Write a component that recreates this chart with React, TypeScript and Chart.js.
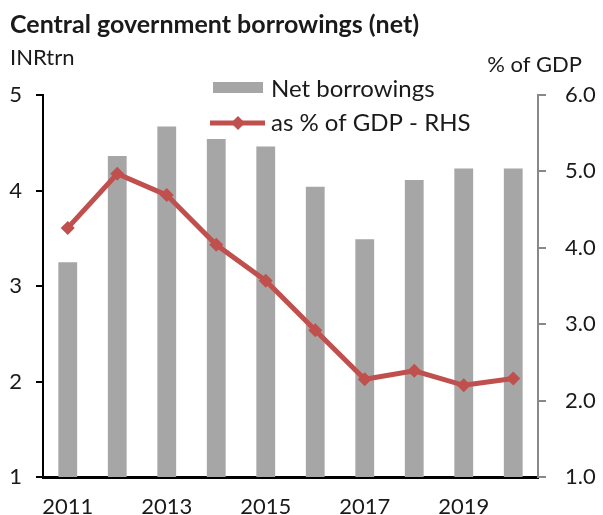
import { useEffect, useRef } from "react";
import { Chart, registerables } from "chart.js";

Chart.register(...registerables);

const years = ["2011", "2012", "2013", "2014", "2015", "2016", "2017", "2018", "2019", "2020"];
const netBorrowings = [3.25, 4.36, 4.67, 4.54, 4.46, 4.04, 3.49, 4.11, 4.23, 4.23];
const pctOfGdp = [4.26, 4.97, 4.69, 4.04, 3.57, 2.92, 2.28, 2.39, 2.2, 2.29];
const leftRange = [1, 5];
const rightRange = [1, 6];
const titleText = "Central government borrowings (net)";
const leftAxisLabel = "INRtrn";
const rightAxisLabel = "% of GDP";
const barLabel = "Net borrowings";
const lineLabel = "as % of GDP - RHS";

const FONT = "Lato, 'Open Sans', sans-serif";
const BAR_COLOR = "#a6a6a6";
const LINE_COLOR = "#c0504d";
const TEXT_COLOR = "#1a1a1a";

const overlayPlugin = {
  id: "overlay",
  afterDraw(chart: any) {
    const ctx = chart.ctx;
    ctx.save();
    ctx.fillStyle = TEXT_COLOR;
    ctx.textBaseline = "alphabetic";
    ctx.textAlign = "left";
    ctx.font = `bold 25px ${FONT}`;
    ctx.fillText(titleText, 10, 33);
    ctx.font = `22px ${FONT}`;
    ctx.fillText(leftAxisLabel, 10, 65);
    ctx.textAlign = "right";
    ctx.fillText(rightAxisLabel, 582, 72);

    // legend
    const ds = chart.data.datasets;
    ctx.textAlign = "left";
    ctx.textBaseline = "middle";
    ctx.font = `24px ${FONT}`;
    ctx.fillStyle = BAR_COLOR;
    ctx.fillRect(213, 82, 50, 11);
    ctx.fillStyle = TEXT_COLOR;
    ctx.fillText(ds[0].label, 271, 89);

    ctx.strokeStyle = LINE_COLOR;
    ctx.lineWidth = 5;
    ctx.beginPath();
    ctx.moveTo(210, 123);
    ctx.lineTo(265, 123);
    ctx.stroke();
    ctx.fillStyle = LINE_COLOR;
    ctx.beginPath();
    ctx.moveTo(238, 116);
    ctx.lineTo(245, 123);
    ctx.lineTo(238, 130);
    ctx.lineTo(231, 123);
    ctx.closePath();
    ctx.fill();
    ctx.fillStyle = TEXT_COLOR;
    ctx.fillText(ds[1].label, 271, 123);
    ctx.restore();
  },
};

export default function App() {
  const ref = useRef<HTMLCanvasElement | null>(null);

  useEffect(() => {
    if (!ref.current) return;
    const chart = new Chart(ref.current, {
      data: {
        labels: years,
        datasets: [
          {
            type: "bar",
            label: barLabel,
            data: netBorrowings,
            backgroundColor: BAR_COLOR,
            barPercentage: 0.38,
            categoryPercentage: 1,
            yAxisID: "y",
            order: 1,
          },
          {
            type: "line",
            label: lineLabel,
            data: pctOfGdp,
            borderColor: LINE_COLOR,
            backgroundColor: LINE_COLOR,
            borderWidth: 5,
            pointStyle: "rectRot",
            pointRadius: 7,
            pointBorderWidth: 0,
            pointBackgroundColor: LINE_COLOR,
            tension: 0,
            yAxisID: "y1",
            order: 0,
          },
        ],
      } as any,
      options: {
        responsive: false,
        animation: false,
        layout: { padding: { top: 95, left: 0, right: 0, bottom: 0 } },
        plugins: { legend: { display: false }, tooltip: { enabled: false }, title: { display: false } },
        scales: {
          x: {
            grid: { display: false, drawTicks: false },
            border: { display: true, color: "#000", width: 3 },
            ticks: {
              autoSkip: false,
              maxRotation: 0,
              padding: 17,
              color: TEXT_COLOR,
              font: { family: FONT, size: 22 },
              callback: (_v: any, i: number) => (i % 2 === 0 ? years[i] : ""),
            },
            afterFit: (s: any) => {
              s.height = 38;
            },
          },
          y: {
            position: "left",
            min: leftRange[0],
            max: leftRange[1],
            ticks: { stepSize: 1, padding: 14, color: TEXT_COLOR, font: { family: FONT, size: 22 } },
            grid: { drawOnChartArea: false, drawTicks: true, tickLength: 7, color: "#000", lineWidth: 2 },
            border: { display: true, color: "#000", width: 2 },
            afterFit: (s: any) => {
              s.width = 43;
            },
          },
          y1: {
            position: "right",
            min: rightRange[0],
            max: rightRange[1],
            ticks: {
              stepSize: 1,
              padding: 19,
              color: TEXT_COLOR,
              font: { family: FONT, size: 22 },
              callback: (v: any) => Number(v).toFixed(1),
            },
            grid: { drawOnChartArea: false, drawTicks: true, tickLength: 8, color: "#888", lineWidth: 2 },
            border: { display: true, color: "#888", width: 2 },
            afterFit: (s: any) => {
              s.width = 65;
            },
          },
        },
      } as any,
      plugins: [overlayPlugin],
    });
    return () => chart.destroy();
  }, []);

  return (
    <div style={{ position: "absolute", left: 0, top: 0, width: 603, height: 515, background: "#fff" }}>
      <canvas ref={ref} width={603} height={515} style={{ display: "block" }} />
    </div>
  );
}
